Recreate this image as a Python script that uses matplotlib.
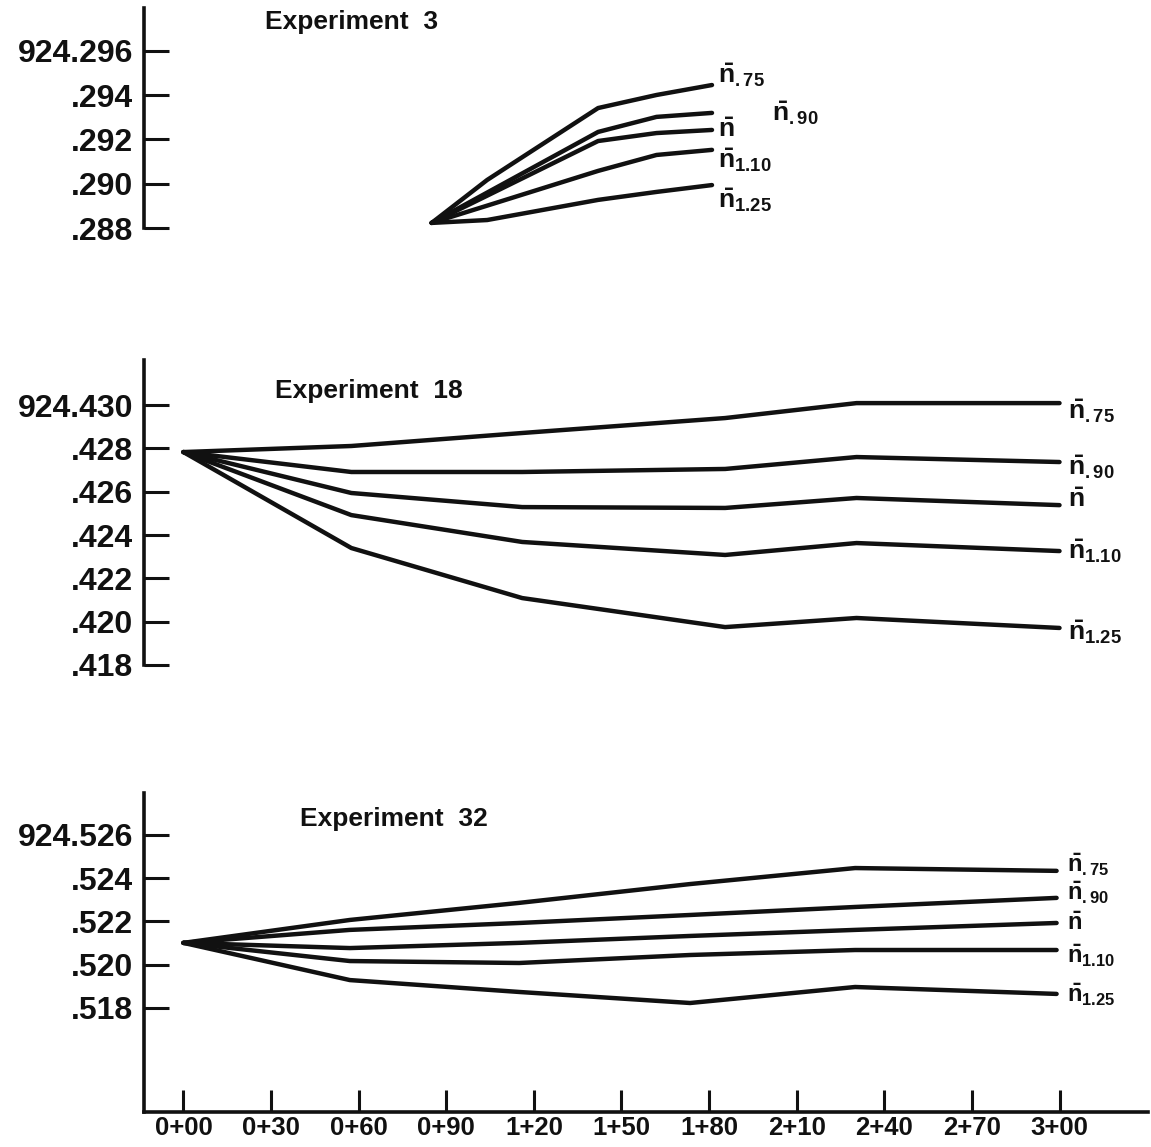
#plotting adjustments of mean elevation for three experiments

import numpy as np
import matplotlib.pyplot as plt

plt.rcParams['font.family'] = ['Liberation Sans', 'DejaVu Sans']
plt.rcParams['font.weight'] = 'bold'
plt.rcParams['mathtext.fontset'] = 'custom'
plt.rcParams['mathtext.rm'] = 'Liberation Sans:bold'
plt.rcParams['mathtext.it'] = 'Liberation Sans:bold'
plt.rcParams['mathtext.bf'] = 'Liberation Sans:bold'

#stations along the x axis
stations = [0, 30, 60, 90, 120, 150, 180, 210, 240, 270, 300]
station_labels = ['0+00', '0+30', '0+60', '0+90', '1+20', '1+50',
                  '1+80', '2+10', '2+40', '2+70', '3+00']

series_labels = [r'$\bar{n}_{.75}$', r'$\bar{n}_{.90}$', r'$\bar{n}$',
                 r'$\bar{n}_{1.10}$', r'$\bar{n}_{1.25}$']

#Experiment 3
exp3_x = [85, 104, 142, 162, 181]
exp3_n75 = [.28823, .29017, .29342, .29401, .29446]
exp3_n90 = [.28823, .28960, .29234, .29302, .29320]
exp3_n = [.28823, .28946, .29193, .29229, .29243]
exp3_n110 = [.28823, .28901, .29058, .29130, .29153]
exp3_n125 = [.28823, .28836, .28927, .28963, .28994]
exp3_ticks = [.288, .290, .292, .294, .296]
exp3_ticklabels = ['.288', '.290', '.292', '.294', '924.296']

#Experiment 18
exp18_x = [0, 57.5, 116, 185.5, 230.5, 300]
exp18_n75 = [.42783, .42811, .42871, .42940, .43009, .43009]
exp18_n90 = [.42783, .42691, .42691, .42705, .42760, .42737]
exp18_n = [.42783, .42594, .42529, .42525, .42571, .42538]
exp18_n110 = [.42783, .42492, .42368, .42308, .42363, .42326]
exp18_n125 = [.42783, .42340, .42109, .41975, .42017, .41971]
exp18_ticks = [.418, .420, .422, .424, .426, .428, .430]
exp18_ticklabels = ['.418', '.420', '.422', '.424', '.426', '.428', '924.430']

#Experiment 32
exp32_x = [0, 57, 115, 173.5, 230, 299]
exp32_n75 = [.52101, .52207, .52286, .52373, .52447, .52434]
exp32_n90 = [.52101, .52161, .52193, .52230, .52267, .52309]
exp32_n = [.52101, .52077, .52101, .52133, .52161, .52193]
exp32_n110 = [.52101, .52017, .52008, .52045, .52068, .52068]
exp32_n125 = [.52101, .51929, .51874, .51823, .51897, .51865]
exp32_ticks = [.518, .520, .522, .524, .526]
exp32_ticklabels = ['.518', '.520', '.522', '.524', '924.526']

W, H = 1151, 1147
def rect(left, top, right, bottom):
    #pixel box -> figure fraction
    return [left / W, 1 - bottom / H, (right - left) / W, (bottom - top) / H]

INK = '#111111'
fig = plt.figure(figsize=(W / 100, H / 100), dpi=100)

panels = [
    dict(box=rect(144, 8, 1148, 228), ylim=(.288, .29794), x=exp3_x,
         ys=[exp3_n75, exp3_n90, exp3_n, exp3_n110, exp3_n125],
         ticks=exp3_ticks, ticklabels=exp3_ticklabels,
         title='Experiment  3', title_xy=(265, 22), labsize=19,
         offsets=[(6, 10), (60, 0), (6, 0), (6, -10), (6, -15)]),
    dict(box=rect(144, 360, 1148, 665), ylim=(.418, .43208), x=exp18_x,
         ys=[exp18_n75, exp18_n90, exp18_n, exp18_n110, exp18_n125],
         ticks=exp18_ticks, ticklabels=exp18_ticklabels,
         title='Experiment  18', title_xy=(275, 391), labsize=19,
         offsets=[(8, -8), (8, -5), (8, 5), (8, 0), (8, -4)]),
    dict(box=rect(144, 793, 1148, 1112), ylim=(.51319, .52794), x=exp32_x,
         ys=[exp32_n75, exp32_n90, exp32_n, exp32_n110, exp32_n125],
         ticks=exp32_ticks, ticklabels=exp32_ticklabels,
         title='Experiment  32', title_xy=(300, 819), labsize=17,
         offsets=[(10, 6), (10, 5), (10, -1), (10, -6), (10, -1)]),
]

axes = []
for i, p in enumerate(panels):
    ax = fig.add_axes(p['box'])
    axes.append(ax)
    for y in p['ys']:
        ax.plot(p['x'], y, color=INK, lw=3.2, solid_capstyle='round',
                solid_joinstyle='round')
    #labels at the end of each curve
    for y, lab, (dx, dy) in zip(p['ys'], series_labels, p['offsets']):
        ax.annotate(lab, xy=(p['x'][-1], y[-1]), xytext=(dx * 0.72, dy * 0.72),
                    textcoords='offset points', ha='left', va='center',
                    fontsize=p['labsize'], color=INK)
    fig.text(p['title_xy'][0] / W, 1 - p['title_xy'][1] / H, p['title'],
             fontsize=19, fontweight='bold', color=INK, ha='left', va='center')

    ax.set_xlim(-13.5, 330.3)
    ax.set_ylim(*p['ylim'])
    ax.set_yticks(p['ticks'], p['ticklabels'])
    ax.tick_params(axis='y', direction='in', length=18, width=2.2, pad=8,
                   labelsize=23, colors=INK)
    for s in ['top', 'right']:
        ax.spines[s].set_visible(False)
    ax.spines['left'].set_linewidth(2.6)
    ax.spines['left'].set_color(INK)
    ax.patch.set_alpha(0)
    if i < 2:
        ax.spines['bottom'].set_visible(False)
        ax.set_xticks([])
    else:
        ax.spines['bottom'].set_linewidth(2.6)
        ax.spines['bottom'].set_color(INK)
        ax.set_xticks(stations, station_labels)
        ax.tick_params(axis='x', direction='in', length=16, width=2.2, pad=3,
                       labelsize=18.5, colors=INK)

fig.savefig('out.png', dpi=100, facecolor='white')
